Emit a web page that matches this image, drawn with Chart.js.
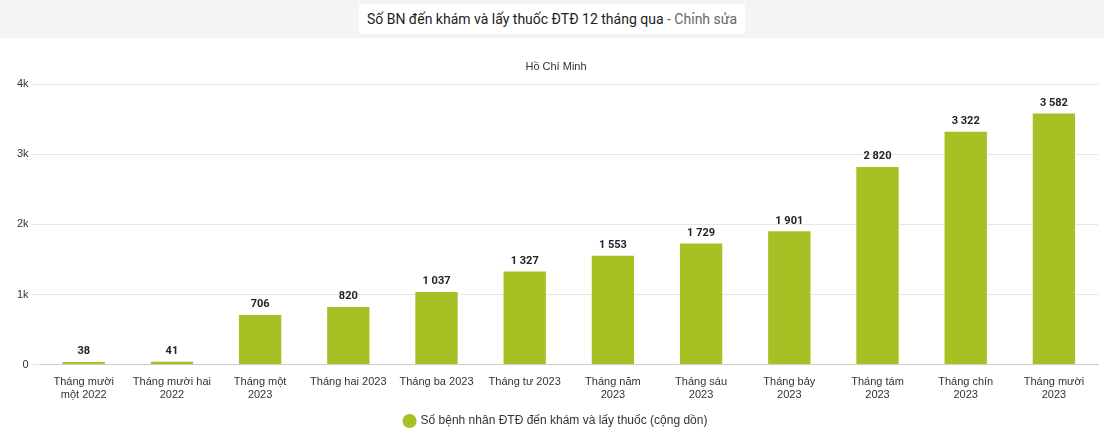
<!DOCTYPE html>
<html><head><meta charset="utf-8">
<script src="https://cdn.jsdelivr.net/npm/chart.js@4"></script>
<style>
body{margin:0;width:1104px;height:437px;background:#fff;font-family:Roboto,Arial,sans-serif;overflow:hidden}
#hdr{height:38px;background:#f4f4f4;display:flex;justify-content:center;align-items:center}
#hdr span{background:#fff;padding:7px 8px;font-size:14px;color:#222}
#hdr i{font-style:normal;color:#666}
#wrap{position:absolute;left:0;top:40px;width:1104px;height:397px}
</style></head><body>
<div id="hdr"><span>Số BN đến khám và lấy thuốc ĐTĐ 12 tháng qua <i>- Chỉnh sửa</i></span></div>
<div id="wrap"><canvas id="c"></canvas></div>
<script>
const categories=[["Tháng mười","một 2022"],["Tháng mười hai","2022"],["Tháng một","2023"],"Tháng hai 2023","Tháng ba 2023","Tháng tư 2023",["Tháng năm","2023"],["Tháng sáu","2023"],["Tháng bảy","2023"],["Tháng tám","2023"],["Tháng chín","2023"],["Tháng mười","2023"]];
const values=[38,41,706,820,1037,1327,1553,1729,1901,2820,3322,3582];
const seriesName="Số bệnh nhân ĐTĐ đến khám và lấy thuốc (cộng dồn)";
const fmt=v=>String(v).replace(/\B(?=(\d{3})+(?!\d))/g," ");
const labelPlugin={id:'lbl',afterDatasetsDraw(ch){const c=ch.ctx;const m=ch.getDatasetMeta(0);c.save();c.font='bold 11px Roboto,Arial';c.fillStyle='#222';c.textAlign='center';c.textBaseline='bottom';m.data.forEach((b,i)=>c.fillText(fmt(values[i]),b.x,b.y-5));c.restore();}};
new Chart(document.getElementById('c'),{type:'bar',
data:{labels:categories,datasets:[{label:seriesName,data:values,backgroundColor:'#a8c023',barPercentage:0.6,categoryPercentage:0.8}]},
options:{responsive:true,maintainAspectRatio:false,animation:false,
layout:{padding:{left:14,right:6,top:0}},
plugins:{title:{display:true,text:'Hồ Chí Minh',font:{size:11,weight:'normal'},color:'#333',padding:{top:20,bottom:11}},
legend:{position:'bottom',labels:{usePointStyle:true,pointStyle:'circle',boxWidth:10,boxHeight:10,color:'#333',font:{size:12}}},tooltip:{enabled:false}},
scales:{x:{grid:{display:false},border:{color:'#ccc'},ticks:{color:'#333',font:{size:11},maxRotation:0,autoSkip:false}},
y:{min:0,max:4000,ticks:{stepSize:1000,color:'#333',font:{size:11},callback:v=>v===0?'0':(v/1000)+'k'},grid:{color:'#e6e6e6'},border:{display:false}}}},
plugins:[labelPlugin]});
</script></body></html>
